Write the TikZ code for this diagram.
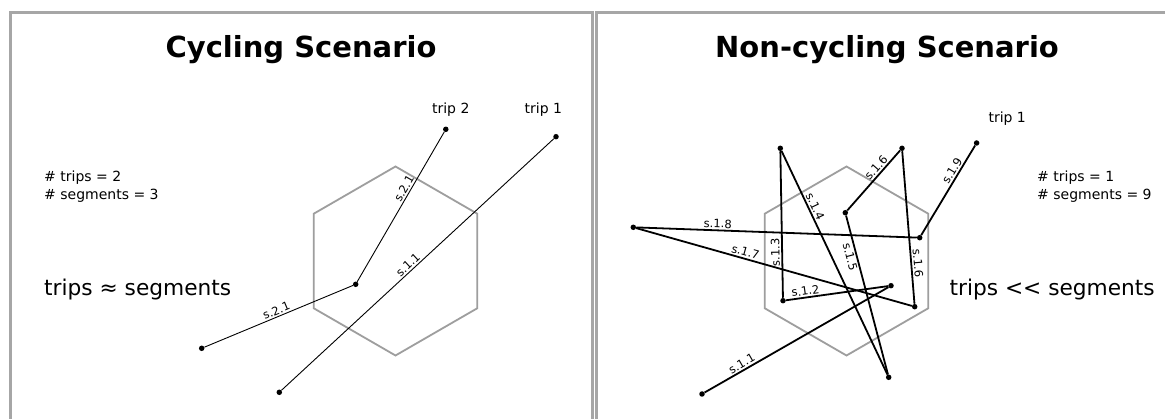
\documentclass[tikz,border=0pt]{standalone}
\usepackage{fontspec}
\setmainfont{DejaVu Sans}
\begin{document}
\begin{tikzpicture}[x=1pt,y=-1pt,
  panel/.style={draw=black!35,line width=3pt},
  hex/.style={draw=black!38,line width=1.8pt,line join=miter},
  dot/.style={circle,fill=black,inner sep=0pt,minimum size=5.5pt},
  thin seg/.style={draw=black,line width=0.9pt},
  thick seg/.style={draw=black,line width=1.8pt},
  lbl/.style={font=\fontsize{11.5}{13}\selectfont,inner sep=1.5pt,sloped},
  title/.style={font=\fontsize{29}{34}\selectfont\bfseries,inner sep=0pt},
  info/.style={font=\fontsize{14}{18}\selectfont,align=left,inner sep=0pt,anchor=west},
  big/.style={font=\fontsize{21.7}{26}\selectfont,inner sep=0pt,anchor=west},
  trip/.style={font=\fontsize{14}{17}\selectfont,inner sep=0pt}]
\useasboundingbox (0,0) rectangle (1165,419);
\fill[white] (0,0) rectangle (1165,419);
% panels
\draw[panel] (10,13) rectangle (592,440);
\draw[panel] (596,13) rectangle (1178,440);
% titles
\node[title] (t1) at (301,50) {Cycling Scenario};
\node[title] (t2) at (887,50) {Non-cycling Scenario};
% left panel
\draw[hex] (395.5,166.5) -- (477.3,213.75) -- (477.3,308.25) -- (395.5,355.5) -- (313.7,308.25) -- (313.7,213.75) -- cycle;
\node[info] (c1) at (44,187) {\# trips = 2\\\# segments = 3};
\node[big] (b1) at (44,290) {trips ≈ segments};
\node[trip] (tr2) at (450.8,110) {trip 2};
\node[trip] (tr1) at (543.4,110) {trip 1};
\node[dot] (A) at (445.8,129.3) {};
\node[dot] (B) at (355.7,284.3) {};
\node[dot] (C) at (201.7,348.3) {};
\node[dot] (D) at (556,136.7) {};
\node[dot] (E) at (279.3,392.3) {};
\draw[thin seg] (A) -- (B) node[lbl,above,pos=0.4] {s.2.1};
\draw[thin seg] (B) -- (C) node[lbl,above,pos=0.5] {s.2.1};
\draw[thin seg] (D) -- (E) node[lbl,above,pos=0.52] {s.1.1};
% right panel
\draw[hex] (846.5,166.5) -- (928.3,213.75) -- (928.3,308.25) -- (846.5,355.5) -- (764.7,308.25) -- (764.7,213.75) -- cycle;
\node[info] (c2) at (1037,187) {\# trips = 1\\\# segments = 9};
\node[big] (b2) at (949.4,290) {trips <\kern0pt< segments};
\node[trip] (tr3) at (1007.2,119) {trip 1};
\node[dot] (P0) at (702,394) {};
\node[dot] (P1) at (891,285.7) {};
\node[dot] (P2) at (783,300.7) {};
\node[dot] (P3) at (780.3,148.3) {};
\node[dot] (P4) at (888.7,377.3) {};
\node[dot] (P5) at (845.3,212.7) {};
\node[dot] (P6) at (902,148.3) {};
\node[dot] (P7) at (914.7,306.7) {};
\node[dot] (P8) at (633.3,227.3) {};
\node[dot] (P9) at (919.7,237.7) {};
\node[dot] (P10) at (976.6,143) {};
\draw[thick seg] (P0) -- (P1) node[lbl,above,pos=0.22] {s.1.1};
\draw[thick seg] (P1) -- (P2) node[lbl,above,pos=0.8] {s.1.2};
\draw[thick seg] (P2) -- (P3) node[lbl,above,pos=0.31,allow upside down] {s.1.3};
\draw[thick seg] (P3) -- (P4) node[lbl,above,pos=0.26] {s.1.4};
\draw[thick seg] (P4) -- (P5) node[lbl,below,pos=0.75] {s.1.5};
\draw[thick seg] (P5) -- (P6) node[lbl,above,pos=0.64] {s.1.6};
\draw[thick seg] (P6) -- (P7) node[lbl,above,pos=0.74] {s.1.6};
\draw[thick seg] (P7) -- (P8) node[lbl,above,pos=0.61] {s.1.7};
\draw[thick seg] (P8) -- (P9) node[lbl,above,pos=0.29] {s.1.8};
\draw[thick seg] (P9) -- (P10) node[lbl,above,pos=0.68] {s.1.9};
\end{tikzpicture}
\end{document}
